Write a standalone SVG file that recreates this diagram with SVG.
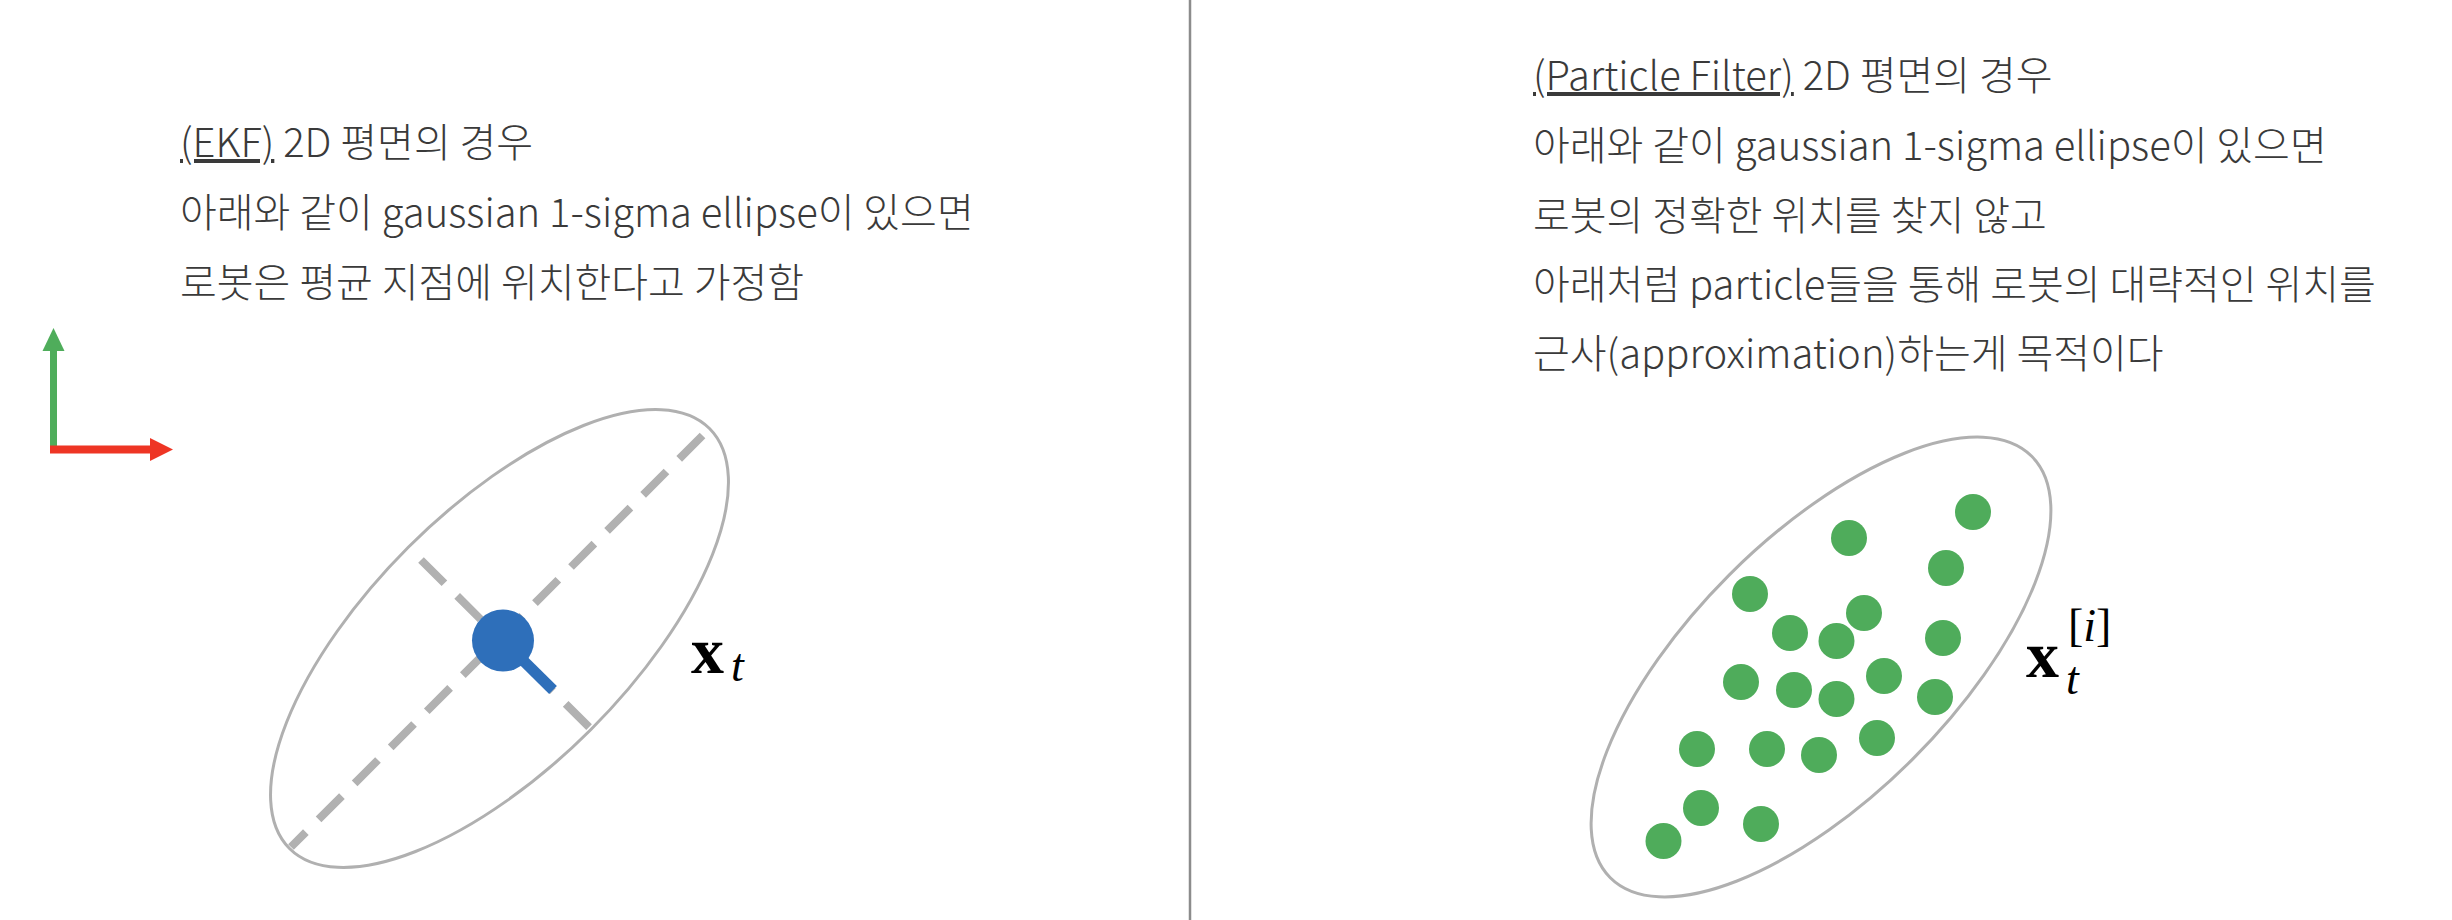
<svg xmlns="http://www.w3.org/2000/svg" width="2452" height="920" viewBox="0 0 2452 920">
<defs>
<style>
.txt{font-family:"Noto Sans CJK KR","Noto Sans",sans-serif;font-size:40px;font-weight:300;fill:#3a3a3a}
.ul{text-decoration:underline}
.ell{fill:none;stroke:#b0b0b0;stroke-width:3}
.axis{fill:none;stroke:#b1b1b1;stroke-width:8;stroke-dasharray:33 18}
.pt{fill:#4fac5b}
.mb{font-family:"Liberation Serif",serif;font-weight:bold;font-style:normal;font-size:66px;fill:#000}
.mi{font-family:"Liberation Serif",serif;font-weight:normal;font-style:italic;font-size:46px;fill:#000}
.mr{font-family:"Liberation Serif",serif;font-weight:normal;font-style:normal;font-size:46px;fill:#000}
</style>
</defs>
<rect width="2452" height="920" fill="#fff"/>
<g id="divider"><line x1="1190" y1="0" x2="1190" y2="920" stroke="#8c8c8c" stroke-width="2.5"/></g>

<g id="left-text" class="txt">
<text x="180" y="157"><tspan class="ul">(EKF)</tspan> 2D 평면의 경우</text>
<text x="180" y="227">아래와 같이 gaussian 1-sigma ellipse이 있으면</text>
<text x="180" y="297">로봇은 평균 지점에 위치한다고 가정함</text>
</g>

<g id="axes">
<line x1="53.5" y1="450" x2="53.5" y2="348" stroke="#4fad5b" stroke-width="7"/>
<polygon points="53.5,328 42.5,351 64.5,351" fill="#4fad5b"/>
<line x1="50" y1="449.5" x2="152" y2="449.5" stroke="#ee3524" stroke-width="8"/>
<polygon points="173,449.5 150,438 150,461" fill="#ee3524"/>
</g>

<g id="ekf-ellipse">
<ellipse class="ell" cx="0" cy="0" rx="297" ry="129" transform="translate(499.5 638.5) rotate(-45)"/>
<line class="axis" x1="291" y1="847" x2="708" y2="430" stroke-dashoffset="12"/>
<line class="axis" x1="421" y1="560" x2="591" y2="729"/>
</g>

<g id="robot">
<line x1="503" y1="640.5" x2="553" y2="690" stroke="#2e6fba" stroke-width="11"/>
<circle cx="503" cy="640.5" r="31" fill="#2e6fba"/>
</g>

<g id="label-xt">
<text x="691" y="673"><tspan class="mb">x</tspan><tspan class="mi" x="731" y="681" font-size="48px">t</tspan></text>
</g>

<g id="right-text" class="txt">
<text x="1533" y="90"><tspan class="ul">(Particle Filter)</tspan> 2D 평면의 경우</text>
<text x="1533" y="160">아래와 같이 gaussian 1-sigma ellipse이 있으면</text>
<text x="1533" y="230">로봇의 정확한 위치를 찾지 않고</text>
<text x="1533" y="299">아래처럼 particle들을 통해 로봇의 대략적인 위치를</text>
<text x="1533" y="368">근사(approximation)하는게 목적이다</text>
</g>

<g id="pf-ellipse">
<ellipse class="ell" cx="0" cy="0" rx="298" ry="130" transform="translate(1821 667) rotate(-45)"/>
</g>

<g id="particles">
<circle class="pt" cx="1973" cy="512" r="18"/>
<circle class="pt" cx="1849" cy="538" r="18"/>
<circle class="pt" cx="1946" cy="568" r="18"/>
<circle class="pt" cx="1750" cy="594" r="18"/>
<circle class="pt" cx="1864" cy="613" r="18"/>
<circle class="pt" cx="1790" cy="633" r="18"/>
<circle class="pt" cx="1836.5" cy="641" r="18"/>
<circle class="pt" cx="1943" cy="638" r="18"/>
<circle class="pt" cx="1741" cy="682" r="18"/>
<circle class="pt" cx="1794" cy="690" r="18"/>
<circle class="pt" cx="1884" cy="676" r="18"/>
<circle class="pt" cx="1836.5" cy="699" r="18"/>
<circle class="pt" cx="1935" cy="697" r="18"/>
<circle class="pt" cx="1697" cy="749" r="18"/>
<circle class="pt" cx="1767" cy="749" r="18"/>
<circle class="pt" cx="1819" cy="755" r="18"/>
<circle class="pt" cx="1877" cy="738" r="18"/>
<circle class="pt" cx="1701" cy="808" r="18"/>
<circle class="pt" cx="1761" cy="824" r="18"/>
<circle class="pt" cx="1663.5" cy="841" r="18"/>
</g>

<g id="label-xti">
<text x="2026" y="677"><tspan class="mb">x</tspan><tspan class="mi" x="2066" y="694">t</tspan><tspan class="mr" x="2068" y="641">[</tspan><tspan class="mi">i</tspan><tspan class="mr">]</tspan></text>
</g>
</svg>
